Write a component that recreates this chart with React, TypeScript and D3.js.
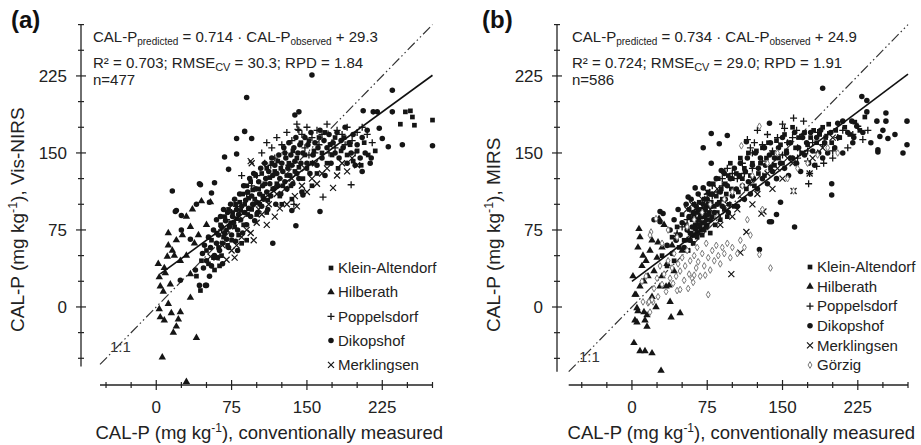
import React from 'react';
import * as d3 from 'd3';

type P = [number, number];

// ---------- tick values ----------
const tickLabels = [0, 75, 150, 225];
const minorStep = 25;

// ---------- panel (a): Vis-NIRS ----------
const aKleinAltendorf: P[] = [
  [243,178],[248,190],[253,191],[255,185],[257,177],[275,182],[44,16],[40,30],[45,45],[50,55],[52,42],[55,65],[57,48],[60,72],[62,58],[64,80],[65,50],[67,68],[68,88],[70,75],[71,60],[72,95],[74,82],[75,65],[76,92],[78,78],[79,100],[80,86],[82,70],[83,102],[84,94],[86,110],[87,80],[88,100],[90,118],[91,90],[92,106],[94,122],[95,95],[96,114],[98,105],[99,128],[100,90],[102,115],[103,100],[105,130],[106,108],[108,120],[110,135],[111,104],[113,126],[115,140],[116,115],[118,132],[120,120],[121,142],[123,108],[124,135],[126,118],[128,150],[130,128],[132,140],[134,118],[136,152],[138,132],[140,145],[142,136],[144,160],[146,125],[148,148],[150,135],[152,162],[155,140],[157,152],[160,130],[162,165],[165,150],[168,170],[170,140],[173,158],[175,148],[178,165],[181,135],[184,152],[187,165],[190,148],[193,158],[196,142],[200,152],[204,138],[207,160],[211,148],[218,152],[85,62],[58,36],[63,40],[90,65],[110,92],[125,100],[135,105],[155,118]
];
const aHilberath: P[] = [
  [3,29],[4,20],[7,15],[8,38],[11,49],[16,55],[12,72],[20,65],[24,45],[30,88],[34,78],[34,32],[34,9],[3,-2],[4,-10],[8,-13],[12,3],[15,-6],[17,-25],[20,-19],[22,-12],[24,-5],[40,-30],[6,-49],[30,-73],[9,33],[18,50],[26,70],[14,22],[30,50],[38,62],[12,60],[42,70],[2,42],[36,95],[50,80],[45,103],[54,102]
];
const aPoppelsdorf: P[] = [
  [194,119],[166,107],[141,173],[85,128],[142,172],[137,100],[114,138],[105,150],[110,160],[115,155],[120,165],[125,158],[130,170],[135,162],[140,178],[145,168],[150,175],[155,165],[160,172],[165,168],[170,178],[175,160],[180,172],[185,168],[190,175],[195,162],[200,170],[205,175],[210,168],[215,160],[100,128],[95,118],[90,110],[108,140],[118,145],[128,150],[132,138],[148,155],[152,148],[158,150],[162,158],[172,150],[178,155],[188,158],[198,150],[75,92],[80,98],[70,85],[65,75]
];
const aDikopshof: P[] = [
  [155,226],[90,204],[235,211],[138,187],[142,190],[206,191],[216,190],[220,190],[235,190],[275,157],[245,158],[231,156],[225,164],[222,174],[214,145],[205,132],[88,171],[95,164],[80,164],[80,149],[72,134],[58,121],[43,120],[68,146],[44,119],[16,113],[53,102],[40,100],[20,94],[25,89],[25,75],[34,66],[24,26],[43,21],[49,21],[81,55],[116,62],[139,79],[135,94],[163,93],[146,109],[55,111],[19,93],[39,36],[50,21],
  [46,52],[48,60],[50,45],[52,68],[54,58],[55,40],[57,75],[58,50],[60,62],[60,85],[47,38],[53,30],
  [62,70],[63,55],[64,88],[65,78],[66,62],[67,95],[68,72],[69,84],[70,66],[71,92],[72,58],[73,78],[74,100],[75,70],[76,88],[77,82],[78,105],[79,64],[80,95],[61,48],[66,42],
  [81,75],[82,90],[83,110],[84,85],[85,98],[86,72],[87,118],[88,92],[89,104],[90,80],[91,112],[92,96],[93,125],[94,88],[95,108],[96,100],[97,130],[98,84],[99,115],[100,102],
  [101,92],[102,122],[103,110],[104,135],[105,98],[106,118],[107,105],[108,140],[109,125],[110,112],[111,95],[112,132],[113,120],[114,108],[115,145],[116,128],[117,115],[118,138],[119,100],[120,130],
  [121,118],[122,148],[123,125],[124,110],[125,140],[126,132],[127,155],[128,122],[129,145],[130,115],[131,135],[132,160],[133,128],[134,148],[135,138],[136,120],[137,155],[138,142],[139,165],[140,130],[141,150],[142,125],[143,158],[144,140],[145,112],
  [146,150],[148,165],[150,140],[151,158],[153,130],[154,170],[156,148],[158,160],[160,138],[161,155],[163,172],[165,145],[167,162],[168,128],[170,155],[172,168],[174,140],[176,160],[178,150],[180,170],
  [182,145],[184,162],[186,155],[188,175],[190,140],[192,160],[194,150],[196,168],[198,138],[200,158],[203,145],[205,165],[208,150],[210,172],[213,140]
];
const aMerklingsen: P[] = [
  [176,116],[94,142],[70,46],[60,48],[54,49],[97,65],[94,72],[123,96],[95,140],[110,80],[118,88],[130,100],[138,108],[145,118],[150,112],[155,125],[160,120],[165,130],[170,135],[180,128],[185,140],[190,132],[195,145],[200,138],[75,55],[80,60],[85,68],[90,75],[100,82],[105,90],[112,100],[120,110],[128,115],[135,125],[140,98],[148,135],[158,140],[78,48],[66,60],[102,95]
];

// ---------- panel (b): MIRS ----------
const bKleinAltendorf: P[] = [
  [30,50],[35,40],[40,68],[42,45],[45,78],[47,58],[50,90],[52,65],[54,80],[56,55],[57,95],[58,72],[60,85],[61,62],[62,100],[63,80],[64,92],[65,68],[66,85],[67,102],[68,78],[69,95],[70,70],[70,82],[71,90],[72,105],[72,75],[73,88],[74,98],[75,80],[76,112],[77,92],[78,72],[79,102],[80,88],[81,120],[82,98],[83,80],[84,108],[85,92],[86,125],[87,102],[88,85],[89,115],[90,105],[91,132],[92,95],[93,120],[94,110],[95,88],[96,128],[97,100],[98,140],[99,115],[100,125],[102,98],[104,130],[106,112],[108,145],[110,125],[112,135],[114,115],[116,150],[118,128],[120,140],[122,118],[124,152],[126,130],[128,140],[130,155],[132,128],[134,145],[136,160],[138,135],[140,150],[142,138],[144,162],[146,145],[148,158],[150,140],[152,168],[154,152],[156,160],[158,145],[160,175],[163,155],[166,165],[169,150],[172,170],[175,158],[178,165],[181,172],[184,160],[187,168],[190,175],[193,165],[196,178],[199,160],[203,172],[207,165],[212,175],[217,168],[222,180],[227,172],[232,185],[62,88],[66,95],[68,88],[70,95],[72,92],[74,85],[64,76],[66,72],[60,70],[76,100],[78,110]
];
const bHilberath: P[] = [
  [7,76],[8,68],[32,80],[11,50],[3,12],[5,-1],[6,-4],[3,-13],[5,-15],[13,-13],[15,-19],[12,-5],[15,-8],[2,-35],[8,-43],[13,-43],[20,-45],[29,-62],[38,5],[39,-10],[48,-6],[24,0],[37,21],[34,20],[28,20],[20,65],[26,63],[27,86],[4,12],[1,30],[10,40],[14,45],[18,55],[22,35],[25,48],[30,58],[35,42],[40,60],[12,25],[16,30],[8,20],[45,70],[50,55],[20,10],[30,30],[6,58],[42,35],[55,65]
];
const bPoppelsdorf: P[] = [
  [161,184],[171,181],[152,174],[164,172],[184,137],[191,140],[177,130],[176,120],[200,145],[80,108],[85,112],[90,118],[105,125],[112,130],[118,155],[122,160],[115,163],[120,150],[125,172],[130,158],[135,168],[140,152],[145,165],[150,178],[155,160],[160,165],[165,155],[170,168],[175,152],[180,160],[185,170],[190,158],[195,168],[205,165],[210,172],[215,155],[220,168],[225,176],[230,163],[235,172],[200,152],[70,100],[75,110],[60,90],[65,95],[80,118],[90,125],[100,130],[110,140],[120,135],[130,142],[140,138],[150,148],[165,145],[175,142],[185,150],[55,85],[50,78],[45,72],[95,135]
];
const bDikopshof: P[] = [
  [190,213],[229,205],[234,201],[234,190],[244,181],[253,181],[253,189],[274,181],[247,166],[255,164],[245,153],[274,158],[219,181],[210,181],[224,176],[221,165],[205,179],[79,169],[87,159],[71,155],[95,167],[114,161],[137,179],[79,140],[89,133],[63,116],[56,107],[71,116],[199,120],[199,109],[162,78],[139,83],[144,90],[148,102],[127,56],[137,83],[22,85],[28,83],[28,93],[31,91],[245,151],
  [35,60],[38,75],[40,52],[42,85],[44,65],[46,95],[48,70],[50,82],[52,58],[54,100],[55,75],[57,88],[58,65],[59,105],[60,78],[61,92],[62,70],[63,85],[64,98],[65,72],[66,110],[67,80],[68,92],[69,75],[70,88],[71,100],[72,82],[73,95],[74,78],[75,105],[76,90],[77,120],[78,85],[79,98],[80,110],[82,92],[84,125],[85,100],[86,88],[88,112],[90,98],[92,130],[93,105],[95,118],[96,92],[98,125],[100,108],[102,135],[104,115],[105,98],[107,128],[108,140],[110,118],[112,105],[113,132],[115,145],[116,122],[118,110],[120,138],[121,125],[123,150],[125,115],[126,135],[128,145],[130,125],[132,155],[133,138],[135,120],[137,148],[138,160],[140,132],[142,145],[144,125],[146,155],[148,140],[150,165],[152,135],[154,150],[156,128],[158,160],[160,145],[162,170],[164,140],[166,155],[168,132],[170,165],[172,148],[174,160],[176,140],[178,170],[180,152],[182,138],[184,165],[186,150],[188,172],[190,145],[192,160],[195,150],[198,170],[202,155],[206,165],[210,150],[215,170],[220,160],[230,170],[238,160],[250,172],[262,168],[270,150]
];
const bMerklingsen: P[] = [
  [99,32],[108,53],[114,73],[129,91],[131,93],[177,130],[161,113],[55,95],[60,100],[70,105],[75,112],[65,82],[85,115],[95,100],[105,95],[110,105],[120,100],[125,110],[140,115],[150,125],[160,140],[170,150],[180,145],[190,155],[200,165],[58,70],[62,75],[68,85],[78,95],[88,80],[100,88],[118,120],[135,130],[145,135],[155,145]
];
const bGorzig: P[] = [
  [10,25],[14,30],[16,4],[11,5],[17,5],[21,5],[18,-5],[20,7],[26,10],[22,18],[25,28],[28,40],[30,22],[32,32],[34,15],[36,45],[38,28],[40,38],[41,23],[42,52],[44,30],[45,16],[46,42],[48,17],[48,35],[50,48],[52,26],[53,40],[55,55],[56,18],[57,32],[58,45],[60,28],[61,24],[62,31],[62,50],[64,38],[65,58],[66,44],[68,30],[70,52],[72,40],[73,31],[74,62],[76,12],[76,48],[78,36],[80,55],[82,45],[84,60],[86,50],[88,42],[90,58],[92,52],[95,62],[98,48],[100,58],[105,52],[108,65],[112,58],[127,51],[138,38],[118,70],
  [19,73],[36,75],[24,86],[18,70],[30,62],[45,68],[55,78],[62,85],[70,92],[78,100],[85,88],[92,105],[100,112],[110,118],[120,128],[135,140],[145,150],[109,157],[127,176],[161,113],[155,125],[165,135],[175,140],[185,148],[195,155],[205,150],[130,95],[115,85]
];

// ---------- site names & statistics ----------
const sitesA = ['Klein-Altendorf', 'Hilberath', 'Poppelsdorf', 'Dikopshof', 'Merklingsen'];
const sitesB = ['Klein-Altendorf', 'Hilberath', 'Poppelsdorf', 'Dikopshof', 'Merklingsen', 'Görzig'];
const slopes = [0.714, 0.734];
const intercepts = [29.3, 24.9];
const r2Values = ['0.703', '0.724'];
const rmseValues = ['30.3', '29.0'];
const rpdValues = ['1.84', '1.91'];
const nValues = [477, 586];
const panelLetters = ['(a)', '(b)'];
const yTitles = ['Vis-NIRS', 'MIRS'];
const regStart = [4, 0];

type Kind = 'square' | 'triangle' | 'plus' | 'circle' | 'cross' | 'diamond';
const kinds: Kind[] = ['square', 'triangle', 'plus', 'circle', 'cross', 'diamond'];

const FONT = '"Liberation Sans", Arial, Helvetica, sans-serif';
const INK = '#151515';

const symSquare = d3.symbol().type(d3.symbolSquare).size(22)()!;
const symCircle = d3.symbol().type(d3.symbolCircle).size(24)()!;
const symTriangle = d3.symbol().type(d3.symbolTriangle).size(24)()!;
const symDiamond = d3.symbol().type(d3.symbolDiamond).size(13)()!;

function Marker({ kind, x, y }: { kind: Kind; x: number; y: number }) {
  const t = `translate(${x},${y})`;
  switch (kind) {
    case 'square':
      return <path d={symSquare} transform={t} fill={INK} />;
    case 'circle':
      return <path d={symCircle} transform={t} fill={INK} />;
    case 'triangle':
      return <path d={symTriangle} transform={t} fill={INK} />;
    case 'diamond':
      return <path d={symDiamond} transform={t} fill="#fff" stroke="#7a7a7a" strokeWidth={1} />;
    case 'plus':
      return <path d="M-3.5,0H3.5M0,-3.5V3.5" transform={t} stroke={INK} strokeWidth={1.3} fill="none" />;
    case 'cross':
      return <path d="M-3,-3L3,3M-3,3L3,-3" transform={t} stroke={INK} strokeWidth={1.2} fill="none" />;
  }
}

interface PanelCfg {
  idx: number;
  xDomain: [number, number];
  xRange: [number, number];
  yDomain: [number, number];
  yRange: [number, number];
  yAxisX: number;
  xAxisY: number;
  series: P[][];
  sites: string[];
  legendX: number;
  legendY0: number;
  legendStep: number;
  textX: number;
  letterX: number;
  yTitleX: number;
  oneLabel: [number, number];
}

function Panel({ cfg }: { cfg: PanelCfg }) {
  const x = d3.scaleLinear().domain(cfg.xDomain).range(cfg.xRange);
  const y = d3.scaleLinear().domain(cfg.yDomain).range(cfg.yRange);
  const xt = d3.range(Math.ceil(cfg.xDomain[0] / minorStep) * minorStep, cfg.xDomain[1] + 0.01, minorStep);
  const yt = d3.range(Math.ceil(cfg.yDomain[0] / minorStep) * minorStep, cfg.yDomain[1] + 0.01, minorStep);
  const i = cfg.idx;
  const line = d3.line<P>().x(d => x(d[0])).y(d => y(d[1]));
  const lo = Math.max(cfg.xDomain[0], cfg.yDomain[0]);
  const hi = Math.min(cfg.xDomain[1], cfg.yDomain[1]);
  const oneToOne = line([[lo, lo], [hi, hi]]);
  const reg = line([[regStart[i], slopes[i] * regStart[i] + intercepts[i]], [cfg.xDomain[1], slopes[i] * cfg.xDomain[1] + intercepts[i]]]);

  return (
    <g>
      <text x={cfg.letterX} y={28} fontFamily={FONT} fontWeight="bold" fontSize={24} fill="#111">{panelLetters[i]}</text>

      {/* y axis */}
      <line x1={cfg.yAxisX} x2={cfg.yAxisX} y1={y(cfg.yDomain[1])} y2={y(cfg.yDomain[0])} stroke="#222" strokeWidth={1.3} />
      {yt.map(v => {
        const major = tickLabels.includes(v);
        const h = major ? 5 : 3;
        return (
          <g key={'yt' + v}>
            <line x1={cfg.yAxisX - h} x2={cfg.yAxisX + h} y1={y(v)} y2={y(v)} stroke="#222" strokeWidth={1.2} />
            {major && (
              <text x={cfg.yAxisX - 14} y={y(v)} dy="0.35em" textAnchor="end" fontFamily={FONT} fontSize={17} fill="#222">{v}</text>
            )}
          </g>
        );
      })}
      {/* x axis */}
      <line x1={x(cfg.xDomain[0])} x2={x(cfg.xDomain[1])} y1={cfg.xAxisY} y2={cfg.xAxisY} stroke="#222" strokeWidth={1.3} />
      {xt.map(v => {
        const major = tickLabels.includes(v);
        const h = major ? 5 : 3;
        return (
          <g key={'xt' + v}>
            <line x1={x(v)} x2={x(v)} y1={cfg.xAxisY - h} y2={cfg.xAxisY + h} stroke="#222" strokeWidth={1.2} />
            {major && (
              <text x={x(v)} y={cfg.xAxisY + 28} textAnchor="middle" fontFamily={FONT} fontSize={17} fill="#222">{v}</text>
            )}
          </g>
        );
      })}

      {/* axis titles */}
      <text x={(cfg.xRange[0] + cfg.xRange[1]) / 2 + 3} y={439} textAnchor="middle" fontFamily={FONT} fontSize={18.5} fill="#222">
        CAL-P (mg kg<tspan dy={-7} fontSize={12}>-1</tspan><tspan dy={7}>), conventionally measured</tspan>
      </text>
      <text transform={`translate(${cfg.yTitleX},332) rotate(-90)`} textAnchor="start" fontFamily={FONT} fontSize={19} fill="#222">
        CAL-P (mg kg<tspan dy={-7} fontSize={12.5}>-1</tspan><tspan dy={7}>), {yTitles[i]}</tspan>
      </text>

      {/* lines */}
      <path d={oneToOne!} fill="none" stroke="#333" strokeWidth={1.2} strokeDasharray="10,3,1.5,3,1.5,3" />
      <text x={cfg.oneLabel[0]} y={cfg.oneLabel[1]} fontFamily={FONT} fontSize={15} fill="#333">1:1</text>

      {/* points */}
      {cfg.series.map((pts, s) => (
        <g key={'s' + s}>
          {pts.map((p, k) => (
            <Marker key={k} kind={kinds[s]} x={x(p[0])} y={y(p[1])} />
          ))}
        </g>
      ))}

      <path d={reg!} fill="none" stroke="#111" strokeWidth={1.6} />

      {/* annotation */}
      <g fontFamily={FONT} fill="#222">
        <text x={cfg.textX} y={42} fontSize={15}>
          CAL-P<tspan fontSize={10} dy={3}>predicted</tspan><tspan dy={-3}> = {slopes[i].toFixed(3)} · CAL-P</tspan><tspan fontSize={10} dy={3}>observed</tspan><tspan dy={-3}> + {intercepts[i].toFixed(1)}</tspan>
        </text>
        <text x={cfg.textX} y={68} fontSize={15}>
          R² = {r2Values[i]}; RMSE<tspan fontSize={11} dy={3}>CV</tspan><tspan dy={-3}> = {rmseValues[i]}; RPD = {rpdValues[i]}</tspan>
        </text>
        <text x={cfg.textX} y={85} fontSize={15}>n={nValues[i]}</text>
      </g>

      {/* legend */}
      {cfg.sites.map((name, s) => {
        const ly = cfg.legendY0 + s * cfg.legendStep;
        return (
          <g key={'lg' + s}>
            <Marker kind={kinds[s]} x={cfg.legendX} y={ly} />
            <text x={cfg.legendX + 7} y={ly} dy="0.35em" fontFamily={FONT} fontSize={15} fill="#222">{name}</text>
          </g>
        );
      })}
    </g>
  );
}

export default function App() {
  const panelA: PanelCfg = {
    idx: 0,
    xDomain: [-56, 275], xRange: [100, 432.5],
    yDomain: [-58, 275], yRange: [366.5, 24.6],
    yAxisX: 81, xAxisY: 385,
    series: [aKleinAltendorf, aHilberath, aPoppelsdorf, aDikopshof, aMerklingsen],
    sites: sitesA,
    legendX: 331, legendY0: 268, legendStep: 24.2,
    textX: 93, letterX: 11, yTitleX: 24,
    oneLabel: [110, 352],
  };
  const panelB: PanelCfg = {
    idx: 1,
    xDomain: [-63, 275], xRange: [568.7, 908],
    yDomain: [-63, 275], yRange: [371.7, 24.6],
    yAxisX: 557, xAxisY: 385,
    series: [bKleinAltendorf, bHilberath, bPoppelsdorf, bDikopshof, bMerklingsen, bGorzig],
    sites: sitesB,
    legendX: 810, legendY0: 267, legendStep: 19.6,
    textX: 572, letterX: 482, yTitleX: 500,
    oneLabel: [579, 362],
  };
  return (
    <svg width={921} height={445} style={{ position: 'absolute', left: 0, top: 0, background: '#fff' }}>
      <rect width={921} height={445} fill="#fff" />
      <Panel cfg={panelA} />
      <Panel cfg={panelB} />
    </svg>
  );
}
